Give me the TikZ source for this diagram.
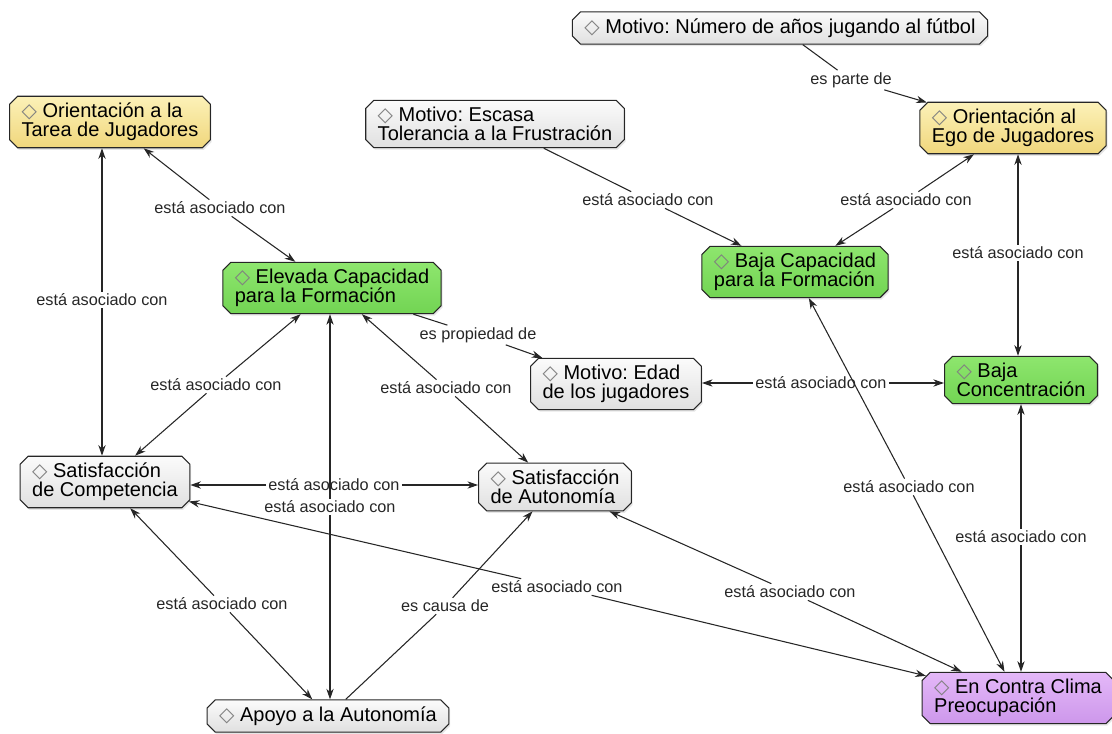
\documentclass[tikz,border=0pt]{standalone}
\usepackage{fontspec}
\setmainfont{Liberation Sans}
\newfontfamily\symfont{DejaVu Sans}
\usepackage{tikz}
\usepackage{xcolor}
\usetikzlibrary{shapes.misc, arrows.meta, shadows}

\definecolor{ytop}{HTML}{FCF1B8}
\definecolor{ybot}{HTML}{F0D77C}
\definecolor{gtop}{HTML}{8EE66E}
\definecolor{gbot}{HTML}{72D453}
\definecolor{ptop}{HTML}{E4B8F8}
\definecolor{pbot}{HTML}{CD97EB}
\definecolor{ctop}{HTML}{FBFBFB}
\definecolor{cbot}{HTML}{E0E0E0}

\newcommand{\dia}{{\symfont\textcolor{black!50}{◇}}\ }
\frenchspacing

\tikzset{
    concept/.style={chamfered rectangle, chamfered rectangle sep=3pt, draw=black!85,
        line width=0.8pt, inner xsep=6pt, inner ysep=2pt, align=left,
        font=\fontsize{15}{14.5}\selectfont,
        drop shadow={opacity=0.2, shadow xshift=1pt, shadow yshift=-1.5pt}},
    cgray/.style={concept, top color=ctop, bottom color=cbot},
    cyellow/.style={concept, top color=ytop, bottom color=ybot},
    cgreen/.style={concept, top color=gtop, bottom color=gbot},
    cpurple/.style={concept, top color=ptop, bottom color=pbot},
    phrase/.style={inner sep=1.5pt, font=\fontsize{12.2}{13}\selectfont, text=black!85},
    plain/.style={line width=0.8pt, draw=black!85},
    arr/.style={plain, -{Stealth[length=8pt, width=5.5pt]}}
}

\begin{document}
\begin{tikzpicture}[x=0.75pt, y=-0.75pt]
        \useasboundingbox (0, 0) rectangle (1112, 734);

        % concepts
        \node[cgray] at (780, 28) (numanos) {\dia Motivo: Número de años jugando al fútbol};
        \node[cyellow] at (110, 122) (tarea) {\dia Orientación a la\\Tarea de Jugadores};
        \node[cgray] at (495, 124) (escasa) {\dia Motivo: Escasa\\Tolerancia a la Frustración};
        \node[cyellow] at (1013, 128) (ego) {\dia Orientación al\\Ego de Jugadores};
        \node[cgreen] at (332, 288) (elevada) {\dia Elevada Capacidad\\para la Formación};
        \node[cgreen] at (795, 272) (bajacap) {\dia Baja Capacidad\\para la Formación};
        \node[cgray] at (616, 384) (edad) {\dia Motivo: Edad\\de los jugadores};
        \node[cgreen] at (1021, 380) (bajaconc) {\dia Baja\\Concentración};
        \node[cgray] at (105, 482) (satcomp) {\dia Satisfacción\\de Competencia};
        \node[cgray] at (555, 487) (sataut) {\dia Satisfacción\\de Autonomía};
        \node[cgray] at (328, 716) (apoyo) {\dia Apoyo a la Autonomía};
        \node[cpurple] at (1018, 698) (clima) {\dia En Contra Clima\\Preocupación};

        % linking phrases
        \node[phrase] at (851, 80) (l1) {es parte de};
        \node[phrase] at (220, 208) (l2) {está asociado con};
        \node[phrase] at (102, 300) (l3) {está asociado con};
        \node[phrase] at (648, 200) (l4) {está asociado con};
        \node[phrase] at (906, 200) (l5) {está asociado con};
        \node[phrase] at (1018, 253) (l6) {está asociado con};
        \node[phrase] at (478, 335) (l7) {es propiedad de};
        \node[phrase] at (216, 385) (l8) {está asociado con};
        \node[phrase] at (446, 388) (l9) {está asociado con};
        \node[phrase] at (821, 383) (l10) {está asociado con};
        \node[phrase] at (334, 485) (l11) {está asociado con};
        \node[phrase] at (330, 507) (l12) {está asociado con};
        \node[phrase] at (557, 587) (l13) {está asociado con};
        \node[phrase] at (222, 604) (l14) {está asociado con};
        \node[phrase] at (445, 606) (l15) {es causa de};
        \node[phrase] at (790, 592) (l16) {está asociado con};
        \node[phrase] at (909, 487) (l17) {está asociado con};
        \node[phrase] at (1021, 537) (l18) {está asociado con};

        % links
        \draw[plain] (numanos) to (l1)
        (escasa) to (l4)
        (elevada) to (l7)
        (apoyo) to (l15);

        \draw[arr] (l1) to (ego);
        \draw[arr] (l2) to (tarea);
        \draw[arr] (l2) to (elevada);
        \draw[arr] (l3) to (l3 |- tarea.south);
        \draw[arr] (l3) to (l3 |- satcomp.north);
        \draw[arr] (l4) to (bajacap);
        \draw[arr] (l5) to (ego);
        \draw[arr] (l5) to (bajacap);
        \draw[arr] (l6) to (l6 |- ego.south);
        \draw[arr] (l6) to (l6 |- bajaconc.north);
        \draw[arr] (l7) to (edad);
        \draw[arr] (l8) to (elevada);
        \draw[arr] (l8) to (satcomp);
        \draw[arr] (l9) to (elevada);
        \draw[arr] (l9) to (sataut);
        \draw[arr] (l10) to (l10 -| edad.east);
        \draw[arr] (l10) to (l10 -| bajaconc.west);
        \draw[arr] (l11) to (l11 -| satcomp.east);
        \draw[arr] (l11) to (l11 -| sataut.west);
        \draw[arr] (l12) to (l12 |- elevada.south);
        \draw[arr] (l12) to (l12 |- apoyo.north);
        \draw[arr] (l13) to (satcomp);
        \draw[arr] (l13) to (clima);
        \draw[arr] (l14) to (satcomp);
        \draw[arr] (l14) to (apoyo);
        \draw[arr] (l15) to (sataut);
        \draw[arr] (l16) to (sataut);
        \draw[arr] (l16) to (clima);
        \draw[arr] (l17) to (bajacap);
        \draw[arr] (l17) to (clima);
        \draw[arr] (l18) to (l18 |- bajaconc.south);
        \draw[arr] (l18) to (l18 |- clima.north);
    \end{tikzpicture}
\end{document}
